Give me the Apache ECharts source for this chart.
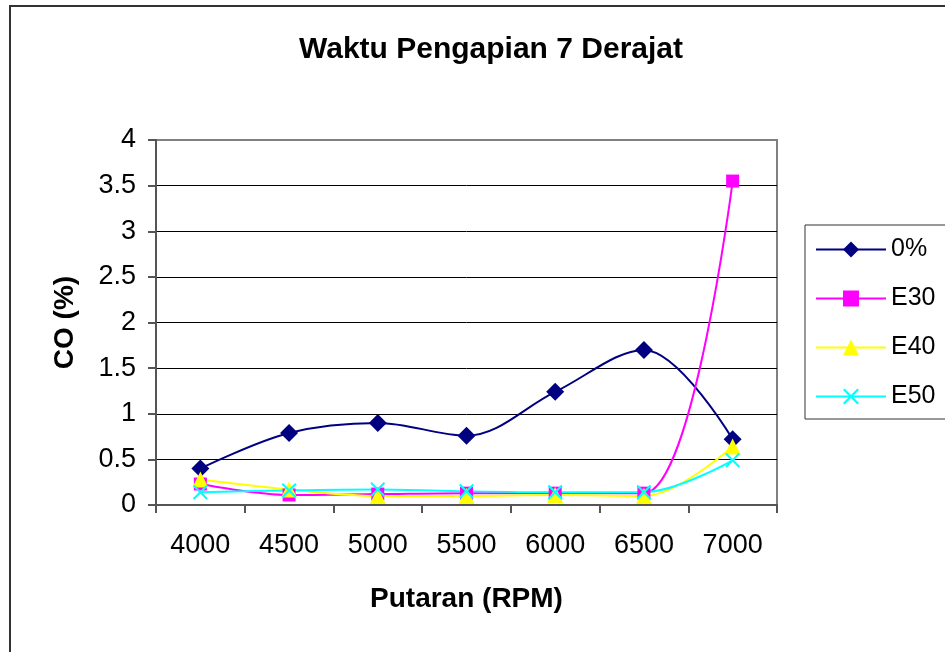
<!DOCTYPE html>
<html>
<head>
<meta charset="utf-8">
<script src="https://cdn.jsdelivr.net/npm/echarts@6/dist/echarts.min.js"></script>
<style>
  html, body { margin: 0; padding: 0; background: #fff; }
  #chart { width: 945px; height: 652px; }
</style>
</head>
<body>
<div id="chart"></div>
<script>
const categories = ['4000', '4500', '5000', '5500', '6000', '6500', '7000'];
const seriesNames = ['0%', 'E30', 'E40', 'E50'];
const s0 = [0.40, 0.79, 0.90, 0.76, 1.24, 1.70, 0.72];
const e30 = [0.23, 0.11, 0.12, 0.13, 0.13, 0.13, 3.55];
const e40 = [0.28, 0.17, 0.10, 0.10, 0.11, 0.10, 0.64];
const e50 = [0.14, 0.16, 0.17, 0.15, 0.14, 0.14, 0.49];

const font = '"Liberation Sans", Arial, sans-serif';
const xPath = 'path://M0,1L1,0L5,4L9,0L10,1L6,5L10,9L9,10L5,6L1,10L0,9L4,5Z';

const chart = echarts.init(document.getElementById('chart'), null, { renderer: 'canvas' });

function line(name, data, color, symbol, size) {
    return {
        name: name,
        type: 'line',
        data: data,
        smooth: 0.35,
        symbol: symbol,
        symbolSize: size,
        showAllSymbol: true,
        lineStyle: { color: color, width: 2 },
        itemStyle: { color: color },
        emphasis: { disabled: true }
    };
}

const option = {
    animation: false,
    backgroundColor: '#fff',
    textStyle: { fontFamily: font },
    title: {
        text: 'Waktu Pengapian 7 Derajat',
        left: 486,
        top: 30,
        textAlign: 'center',
        textStyle: { fontFamily: font, fontSize: 30, fontWeight: 'bold', color: '#000' }
    },
    graphic: [{
        type: 'rect',
        shape: { x: 10, y: 6, width: 960, height: 700 },
        style: { fill: 'none', stroke: '#333', lineWidth: 2 },
        silent: true
    }],
    legend: {
        orient: 'vertical',
        left: 805,
        top: 225,
        padding: [12, 30, 10, 10],
        itemGap: 24,
        itemWidth: 70,
        itemHeight: 20,
        borderColor: '#333',
        borderWidth: 1,
        data: seriesNames,
        textStyle: { fontFamily: font, fontSize: 25, color: '#000' }
    },
    grid: {
        left: 156,
        right: 168,
        top: 140,
        bottom: 147,
        show: true,
        borderColor: '#808080',
        borderWidth: 2,
        backgroundColor: 'transparent'
    },
    xAxis: {
        type: 'category',
        data: categories,
        boundaryGap: true,
        name: 'Putaran (RPM)',
        nameLocation: 'middle',
        nameGap: 80,
        nameTextStyle: { fontFamily: font, fontSize: 28, fontWeight: 'bold', color: '#000' },
        axisLine: { lineStyle: { color: '#555', width: 2 } },
        axisTick: { show: true, length: 8, interval: 0, alignWithLabel: false, lineStyle: { color: '#555', width: 2 } },
        axisLabel: { margin: 27, fontSize: 27, color: '#000', fontFamily: font, interval: 0 }
    },
    yAxis: {
        type: 'value',
        min: 0,
        max: 4,
        interval: 0.5,
        name: 'CO (%)',
        nameLocation: 'middle',
        nameGap: 77,
        nameRotate: 90,
        nameTextStyle: { fontFamily: font, fontSize: 28, fontWeight: 'bold', color: '#000' },
        axisLine: { show: true, lineStyle: { color: '#555', width: 2 } },
        axisTick: { show: true, length: 8, lineStyle: { color: '#555', width: 2 } },
        axisLabel: { margin: 20, fontSize: 27, color: '#000', fontFamily: font },
        splitLine: { show: true, showMaxLine: false, lineStyle: { color: '#000', width: 1 } }
    },
    series: [
        line('0%', s0, '#000080', 'diamond', 18),
        line('E30', e30, '#ff00ff', 'rect', 13),
        line('E40', e40, '#ffff00', 'triangle', 16),
        line('E50', e50, '#00ffff', xPath, 15)
    ]
};

chart.setOption(option);
</script>
</body>
</html>
